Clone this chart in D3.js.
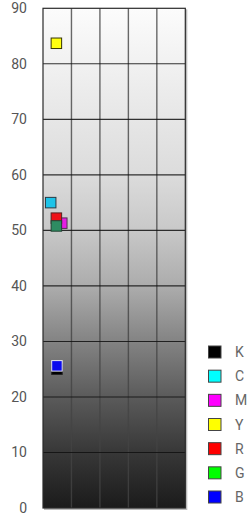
<!DOCTYPE html>
<html>
<head>
<meta charset="utf-8">
<script src="https://cdn.jsdelivr.net/npm/d3@7"></script>
<style>
  html, body { margin: 0; padding: 0; background: #ffffff; }
  svg { display: block; }
  text { font-family: 'Roboto', sans-serif; }
</style>
</head>
<body>
<svg id="chart" width="252" height="519"></svg>
<script>
// ---- data ----
const series = ["K", "C", "M", "Y", "R", "G", "B"];
const xValues = [0.49, 0.27, 0.66, 0.47, 0.47, 0.47, 0.49];
const yValues = [25.0, 55.0, 51.3, 83.7, 52.2, 50.8, 25.6];
const yTicks = [0, 10, 20, 30, 40, 50, 60, 70, 80, 90];
const xCols = [0, 1, 2, 3, 4, 5];

// ---- styles ----
const legendColors = ["#000000", "#00ffff", "#ff00ff", "#ffff00", "#ff0000", "#00ff00", "#0000ff"];
const pointColors  = ["#000000", "#1ec3e8", "#e51ee5", "#ffff10", "#ee1118", "#2e8c62", "#0a0aee"];
const pointStrokes = ["#222222", "#2a3a44", "#553355", "#333300", "#552222", "#224433", "#e8e8f0"];

const svg = d3.select("#chart");
const m = { left: 43, right: 185.3, top: 8.3, bottom: 508 };

const x = d3.scaleLinear().domain([0, 5]).range([m.left, m.right]);
const y = d3.scaleLinear().domain([0, 90]).range([m.bottom, m.top]);

// background gradient
const defs = svg.append("defs");
const grad = defs.append("linearGradient").attr("id", "bg")
  .attr("x1", 0).attr("y1", 0).attr("x2", 0).attr("y2", 1);
[[0, "#fcfcfc"], [0.11, "#f1f1f1"], [0.33, "#dcdcdc"], [0.44, "#c9c9c9"],
 [0.56, "#ababab"], [0.67, "#828282"], [0.78, "#5a5a5a"], [0.89, "#373737"], [1, "#1b1b1b"]]
  .forEach(([o, c]) => grad.append("stop").attr("offset", o).attr("stop-color", c));

// drop shadow edge
svg.append("rect")
  .attr("x", m.left + 1).attr("y", m.top + 1)
  .attr("width", m.right - m.left + 1).attr("height", m.bottom - m.top + 1)
  .attr("fill", "#bbbbbb");

svg.append("rect")
  .attr("x", m.left).attr("y", m.top)
  .attr("width", m.right - m.left).attr("height", m.bottom - m.top)
  .attr("fill", "url(#bg)");

// vertical grid lines
svg.append("g").selectAll("line").data(xCols.slice(1, -1)).join("line")
  .attr("x1", d => x(d)).attr("x2", d => x(d))
  .attr("y1", m.top).attr("y2", m.bottom)
  .attr("stroke", "#444").attr("stroke-opacity", 0.8).attr("stroke-width", 1.4);

// horizontal grid lines
svg.append("g").selectAll("line").data(yTicks.slice(1, -1)).join("line")
  .attr("x1", m.left).attr("x2", m.right)
  .attr("y1", d => y(d)).attr("y2", d => y(d))
  .attr("stroke", "#111").attr("stroke-opacity", 0.85).attr("stroke-width", 1.1);

// border
svg.append("rect")
  .attr("x", m.left).attr("y", m.top)
  .attr("width", m.right - m.left).attr("height", m.bottom - m.top)
  .attr("fill", "none").attr("stroke", "#2a2a2a").attr("stroke-width", 1.2);

// y axis labels
const yAxis = d3.axisLeft(y).tickValues(yTicks).tickSize(0).tickPadding(16);
const ga = svg.append("g").attr("transform", `translate(${m.left},0)`).call(yAxis);
ga.select(".domain").remove();
ga.selectAll("text").attr("fill", "#555").attr("font-size", 14)
  .attr("font-family", "'Roboto', sans-serif");

// points
const s = 10.5;
svg.append("g").selectAll("rect").data(series).join("rect")
  .attr("x", (d, i) => x(xValues[i]) - s / 2)
  .attr("y", (d, i) => y(yValues[i]) - s / 2)
  .attr("width", s).attr("height", s)
  .attr("fill", (d, i) => pointColors[i])
  .attr("stroke", (d, i) => pointStrokes[i]).attr("stroke-width", 1);

// legend
const lg = svg.append("g");
const ly = d3.scalePoint().domain(series).range([352, 497]);
lg.selectAll("rect").data(series).join("rect")
  .attr("x", 208.5).attr("y", d => ly(d) - 6)
  .attr("width", 12.5).attr("height", 12)
  .attr("fill", (d, i) => legendColors[i])
  .attr("stroke", "#444").attr("stroke-width", 1);
lg.selectAll("text").data(series).join("text")
  .attr("x", 235).attr("y", d => ly(d))
  .attr("dy", "0.36em")
  .attr("fill", "#666").attr("font-size", 14)
  .attr("font-family", "'Roboto', sans-serif")
  .text(d => d);
</script>
</body>
</html>
